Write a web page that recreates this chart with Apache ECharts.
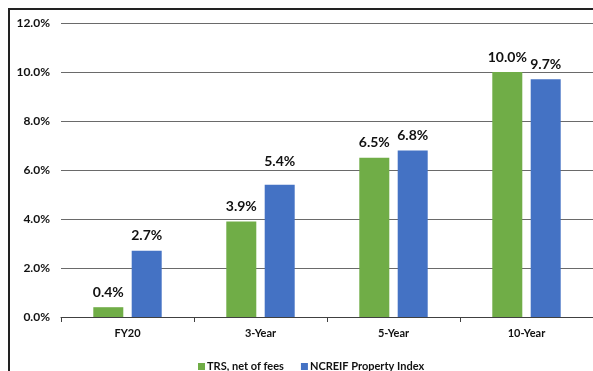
<!DOCTYPE html>
<html>
<head>
<meta charset="utf-8">
<script src="https://cdn.jsdelivr.net/npm/echarts@6/dist/echarts.min.js"></script>
<style>
  html, body { margin: 0; padding: 0; background: #fff; }
  #chart { width: 593px; height: 371px; }
</style>
</head>
<body>
<div id="chart"></div>
<script>
// Annualized returns by period
const categories = ['FY20', '3-Year', '5-Year', '10-Year'];
const trsNetOfFees = [0.4, 3.9, 6.5, 10.0];
const ncreifIndex = [2.7, 5.4, 6.8, 9.7];
const seriesNames = ['TRS, net of fees', 'NCREIF Property Index'];
const yTicks = [0, 2, 4, 6, 8, 10, 12];

const FONT = 'Lato, "Open Sans", sans-serif';
const GREEN = '#70AD47';
const BLUE = '#4472C4';

const chart = echarts.init(document.getElementById('chart'), null, { renderer: 'canvas' });

function barSeries(name, values, color, extraLift) {
  return {
    name: name,
    type: 'bar',
    barWidth: 30,
    barGap: '28%',
    data: values.map((v, i) => ({
      value: v,
      label: extraLift && extraLift[i] ? { offset: [0, -extraLift[i]] } : undefined
    })),
    itemStyle: { color: color },
    label: {
      show: true,
      position: 'top',
      distance: 8,
      color: '#111',
      fontFamily: FONT,
      fontWeight: 'bold',
      fontSize: 14,
      formatter: p => p.value.toFixed(1) + '%'
    }
  };
}

chart.setOption({
  animation: false,
  backgroundColor: '#fff',
  graphic: [{
    type: 'rect',
    shape: { x: 9, y: 9, width: 700, height: 500 },
    style: { fill: 'none', stroke: '#222', lineWidth: 2 },
    silent: true
  }],
  grid: { left: 61, top: 23, width: 533, height: 294, containLabel: false },
  legend: {
    top: 356,
    left: 193,
    itemWidth: 7,
    itemHeight: 7,
    itemGap: 17,
    icon: 'rect',
    textStyle: { fontFamily: FONT, fontWeight: 'bold', fontSize: 11, color: '#111', padding: [0, 0, 0, -3] },
    data: seriesNames
  },
  xAxis: {
    type: 'category',
    data: categories,
    axisLine: { lineStyle: { color: '#404040', width: 1 } },
    axisTick: { show: true, length: 5, lineStyle: { color: '#404040' } },
    axisLabel: { color: '#111', fontFamily: FONT, fontWeight: 'bold', fontSize: 11, margin: 11 }
  },
  yAxis: {
    type: 'value',
    min: yTicks[0],
    max: yTicks[yTicks.length - 1],
    interval: 2,
    axisLine: { show: false },
    axisTick: { show: false },
    splitLine: { lineStyle: { color: '#6a6a6a', width: 1 } },
    axisLabel: {
      color: '#111', fontFamily: FONT, fontWeight: 'bold', fontSize: 12, margin: 11,
      formatter: v => v.toFixed(1) + '%'
    }
  },
  series: [
    barSeries(seriesNames[0], trsNetOfFees, GREEN),
    barSeries(seriesNames[1], ncreifIndex, BLUE, [0, 8, 0, 0])
  ]
});
</script>
</body>
</html>
